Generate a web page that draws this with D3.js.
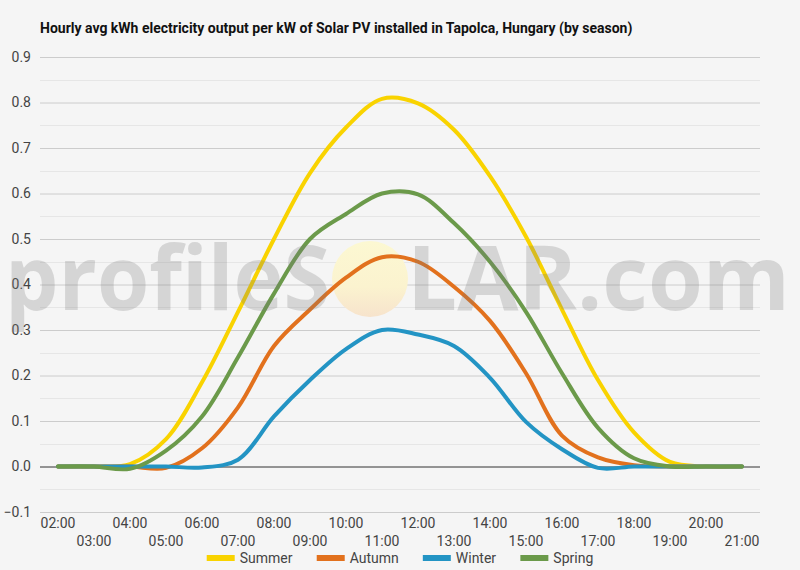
<!DOCTYPE html>
<html><head><meta charset="utf-8">
<script src="https://cdn.jsdelivr.net/npm/d3@7/dist/d3.min.js"></script>
<style>
html,body{margin:0;padding:0;background:#f5f5f5;}
svg{display:block;font-family:Roboto,"Noto Sans",sans-serif;}
</style></head>
<body>
<svg id="chart" width="800" height="570"></svg>
<script>
const hours = ["02:00","03:00","04:00","05:00","06:00","07:00","08:00","09:00","10:00","11:00","12:00","13:00","14:00","15:00","16:00","17:00","18:00","19:00","20:00","21:00"];
const seriesNames = ["Summer","Autumn","Winter","Spring"];
const seriesColors = ["#f9d300","#e2711d","#2394c4","#6b9a4a"];
const summer = [0, 0, 0.005, 0.06, 0.185, 0.34, 0.5, 0.645, 0.745, 0.808, 0.798, 0.74, 0.638, 0.505, 0.345, 0.19, 0.075, 0.01, 0, 0];
const autumn = [0, 0, 0, -0.003, 0.04, 0.13, 0.265, 0.345, 0.415, 0.46, 0.45, 0.395, 0.32, 0.205, 0.068, 0.02, 0.003, 0, 0, 0];
const winter = [0, 0, 0, 0, -0.002, 0.015, 0.11, 0.19, 0.258, 0.3, 0.29, 0.265, 0.195, 0.098, 0.038, -0.003, 0, 0, 0, 0];
const spring = [0, 0, -0.005, 0.035, 0.11, 0.24, 0.38, 0.5, 0.555, 0.6, 0.598, 0.535, 0.45, 0.34, 0.205, 0.085, 0.018, 0, 0, 0];
const yTicks = [-0.1, 0, 0.1, 0.2, 0.3, 0.4, 0.5, 0.6, 0.7, 0.8, 0.9];
const titleText = "Hourly avg kWh electricity output per kW of Solar PV installed in Tapolca, Hungary (by season)";

const seriesValues = [summer, autumn, winter, spring];
const svg = d3.select("#chart");
const plotLeft = 40, plotRight = 760, plotTop = 57, plotBottom = 512;

svg.append("rect").attr("width",800).attr("height",570).attr("fill","#f5f5f5");

const x = d3.scaleBand().domain(hours).range([plotLeft, plotRight]).padding(0);
const xc = h => x(h) + x.bandwidth()/2;
const y = d3.scaleLinear().domain([-0.1, 0.9]).range([plotBottom, plotTop]);

// minor gridlines
const minor = d3.range(-0.05, 0.9, 0.1);
svg.append("g").selectAll("line").data(minor).join("line")
  .attr("x1", plotLeft).attr("x2", plotRight)
  .attr("y1", d => Math.round(y(d))+0.5).attr("y2", d => Math.round(y(d))+0.5)
  .attr("stroke", "#e6e6e6").attr("stroke-width", 1);

// major gridlines + labels
const yAxis = d3.axisLeft(y).tickValues(yTicks).tickFormat(d3.format(".1f")).tickSize(-(plotRight-plotLeft)).tickPadding(9);
const gy = svg.append("g").attr("transform", `translate(${plotLeft},0)`).call(yAxis);
gy.select(".domain").remove();
gy.selectAll(".tick line").attr("stroke", d => d === 0 ? "#333" : "#cccccc").attr("stroke-width", 1);
gy.selectAll(".tick text").attr("fill", "#444").attr("font-size", 14).attr("font-family","Roboto");

// x axis labels (staggered)
const xAxis = d3.axisBottom(x).tickSize(0).tickPadding(0);
const gx = svg.append("g").attr("transform", `translate(0,${plotBottom})`).call(xAxis);
gx.select(".domain").remove();
gx.selectAll(".tick text")
  .attr("fill", "#444").attr("font-size", 14).attr("font-family","Roboto")
  .attr("dy", null)
  .attr("y", (d,i) => i % 2 === 0 ? 16 : 34);

// sun of the watermark (under the lines)
const defs = svg.append("defs");
const grad = defs.append("linearGradient").attr("id","sun").attr("x1",0).attr("y1",0).attr("x2",0).attr("y2",1);
grad.append("stop").attr("offset","0%").attr("stop-color","#fcf8d2");
grad.append("stop").attr("offset","60%").attr("stop-color","#fbf3cf");
grad.append("stop").attr("offset","100%").attr("stop-color","#f7e3cc");
svg.append("circle").attr("cx",370).attr("cy",279).attr("r",38).attr("fill","url(#sun)");

// lines
const line = d3.line().x((d,i) => xc(hours[i])).y(d => y(d)).curve(d3.curveCatmullRom.alpha(0.5));
svg.append("g").selectAll("path").data(seriesValues).join("path")
  .attr("d", d => line(d))
  .attr("fill", "none")
  .attr("stroke", (d,i) => seriesColors[i])
  .attr("stroke-width", 4)
  .attr("stroke-linejoin","round").attr("stroke-linecap","round");

// watermark text
const wm = svg.append("g").attr("pointer-events","none");
wm.append("text").attr("x",5).attr("y",310).text("profileS")
  .attr("font-family","'Open Sans',sans-serif").attr("font-weight",700).attr("font-size",90)
  .attr("textLength",325).attr("lengthAdjust","spacingAndGlyphs")
  .attr("fill","#7a7a7a").attr("opacity",0.25);
wm.append("text").attr("x",407).attr("y",310).text("LAR.com")
  .attr("font-family","'Open Sans',sans-serif").attr("font-weight",700).attr("font-size",90)
  .attr("textLength",383).attr("lengthAdjust","spacingAndGlyphs")
  .attr("fill","#7a7a7a").attr("opacity",0.25);

// title
svg.append("text").attr("x",40).attr("y",33).text(titleText)
  .attr("font-family","Roboto").attr("font-weight",700).attr("font-size",14).attr("fill","#111");

// legend
const lg = svg.append("g");
const items = lg.selectAll("g").data(seriesNames).join("g");
items.append("line").attr("x1",0).attr("x2",28).attr("y1",0).attr("y2",0)
  .attr("stroke",(d,i)=>seriesColors[i]).attr("stroke-width",6);
items.append("text").attr("x",33).attr("y",5).text(d=>d)
  .attr("font-family","Roboto").attr("font-size",14).attr("fill","#444");
let cx = 0; const pos = [];
items.each(function(){ const w = this.getBBox().width; pos.push(cx); cx += w + 24; });
const total = cx - 24;
const startX = 400 - total/2;
items.attr("transform",(d,i)=>`translate(${startX+pos[i]},558)`);
</script>
</body></html>
